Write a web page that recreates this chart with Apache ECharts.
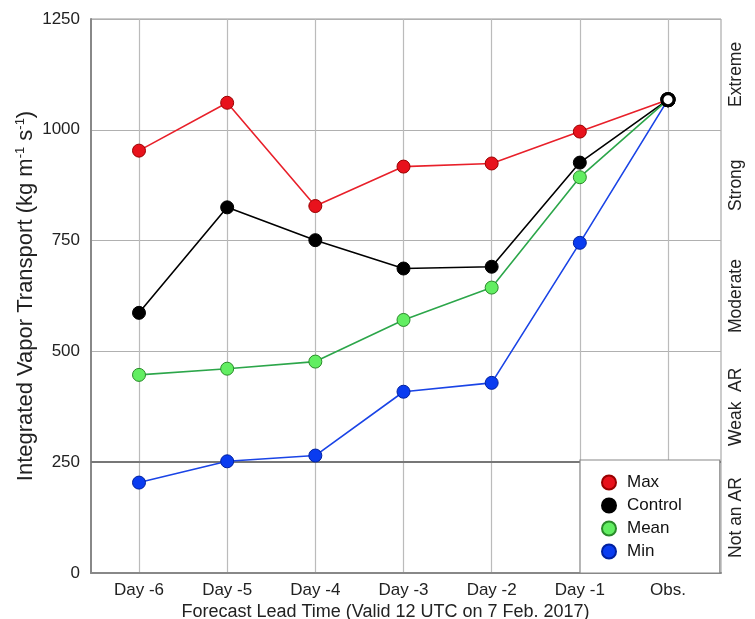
<!DOCTYPE html>
<html>
<head>
<meta charset="utf-8">
<script src="https://cdn.jsdelivr.net/npm/echarts@6/dist/echarts.min.js"></script>
<style>html,body{margin:0;padding:0;background:#fff}#c{width:755px;height:619px}</style>
</head>
<body>
<div id="c"></div>
<script>
const categories = ['Day -6', 'Day -5', 'Day -4', 'Day -3', 'Day -2', 'Day -1', 'Obs.'];
const maxVals = [953, 1061, 828, 917, 924, 996, 1068];
const controlVals = [587, 825, 751, 687, 691, 926, 1068];
const meanVals = [447, 461, 477, 571, 644, 893, 1068];
const minVals = [204, 252, 265, 409, 429, 745, 1068];
const yTicks = [0, 250, 500, 750, 1000, 1250];
const classMids = [125, 375, 625, 875, 1125];
const classNames = ['Not an AR', 'Weak  AR', 'Moderate', 'Strong', 'Extreme'];
const arThreshold = 250;

const FONT = '"Liberation Sans", Arial, Helvetica, sans-serif';

function mkSeries(name, vals, fill, border, line) {
  return {
    name: name, type: 'line', xAxisIndex: 1, yAxisIndex: 2,
    symbol: 'circle', symbolSize: 13,
    lineStyle: { color: line, width: 1.6 },
    itemStyle: { color: fill, borderColor: border, borderWidth: 1 },
    data: vals.map(function (v, i) {
      if (i === vals.length - 1) {
        return { value: v, symbolSize: 12, itemStyle: { color: '#fff', borderColor: '#000', borderWidth: 3 } };
      }
      return v;
    }),
    z: 5
  };
}

const chart = echarts.init(document.getElementById('c'), null, { renderer: 'canvas' });
chart.setOption({
  animation: false,
  backgroundColor: '#fff',
  textStyle: { fontFamily: FONT },
  grid: [
    { left: 91, top: 19, width: 630, height: 554, show: true, borderColor: '#999', borderWidth: 1,
      backgroundColor: 'transparent', containLabel: false, outerBoundsMode: 'none' },
    { left: 139, top: 19, width: 529, height: 554, containLabel: false, outerBoundsMode: 'none' }
  ],
  xAxis: [
    { gridIndex: 0, type: 'value', min: 0, max: 1,
      axisLine: { show: true, lineStyle: { color: '#888', width: 2 } },
      axisTick: { show: false }, axisLabel: { show: false }, splitLine: { show: false } },
    { gridIndex: 1, type: 'category', data: categories, boundaryGap: false,
      axisLine: { show: false }, axisTick: { show: false },
      axisLabel: { fontSize: 17, color: '#222', margin: 9, fontFamily: FONT },
      splitLine: { show: true, lineStyle: { color: '#bbb', width: 1.2 } },
      name: 'Forecast Lead Time (Valid 12 UTC on 7 Feb. 2017)',
      nameLocation: 'middle', nameGap: 30, nameMoveOverlap: false,
      nameTextStyle: { fontSize: 18, color: '#222', fontFamily: FONT, padding: [0, 36, 0, 0] } }
  ],
  yAxis: [
    { gridIndex: 0, type: 'value', min: 0, max: 1250, interval: 250,
      axisLine: { show: true, lineStyle: { color: '#888', width: 2 } },
      axisTick: { show: false },
      axisLabel: { fontSize: 17, color: '#222', margin: 11, fontFamily: FONT,
        customValues: yTicks, formatter: function (v) { return String(v); } },
      splitLine: { show: true, lineStyle: { color: '#b0b0b0', width: 1.2 } },
      name: '{n|Integrated Vapor Transport (kg m}{s|-1}{n| s}{s|-1}{n|)}',
      nameLocation: 'middle', nameGap: 53, nameRotate: 90, nameMoveOverlap: false,
      nameTextStyle: { fontFamily: FONT, rich: {
        n: { fontSize: 22, color: '#222', fontFamily: FONT, lineHeight: 24 },
        s: { fontSize: 13, color: '#222', fontFamily: FONT, verticalAlign: 'top', lineHeight: 24 }
      } } },
    { gridIndex: 0, type: 'value', position: 'right', min: 0, max: 1250, interval: 125,
      axisLine: { show: false }, axisTick: { show: false }, splitLine: { show: false },
      axisLabel: { fontSize: 17.5, color: '#222', margin: 6, rotate: 90, fontFamily: FONT,
        formatter: function (v) {
          const idx = classMids.indexOf(v);
          return idx >= 0 ? classNames[idx] : '';
        } } },
    { gridIndex: 1, type: 'value', min: 0, max: 1250, show: false, splitLine: { show: false } }
  ],
  legend: {
    data: ['Max', 'Control', 'Mean', 'Min'],
    orient: 'vertical', left: 580, top: 460,
    padding: [14, 38, 13, 21],
    itemWidth: 14, itemHeight: 14, itemGap: 6,
    icon: 'circle',
    backgroundColor: '#fff', borderColor: '#888', borderWidth: 1.2,
    textStyle: { fontSize: 17, color: '#111', fontFamily: FONT, padding: [0, 0, 0, 6] },
    z: 10
  },
  series: [
    { name: '_thr', type: 'line', xAxisIndex: 0, yAxisIndex: 0, data: [], silent: true,
      markLine: { silent: true, symbol: 'none', label: { show: false },
        lineStyle: { color: '#777', width: 1.8, type: 'solid' },
        data: [{ yAxis: arThreshold }] }, z: 3 },
    mkSeries('Max', maxVals, '#e8121c', '#9a0000', '#e8202a'),
    mkSeries('Control', controlVals, '#000', '#000', '#000'),
    mkSeries('Mean', meanVals, '#62ee62', '#2a8a2a', '#2ca64a'),
    mkSeries('Min', minVals, '#0a3cf0', '#0020a0', '#1a44e6')
  ]
});
</script>
</body>
</html>
